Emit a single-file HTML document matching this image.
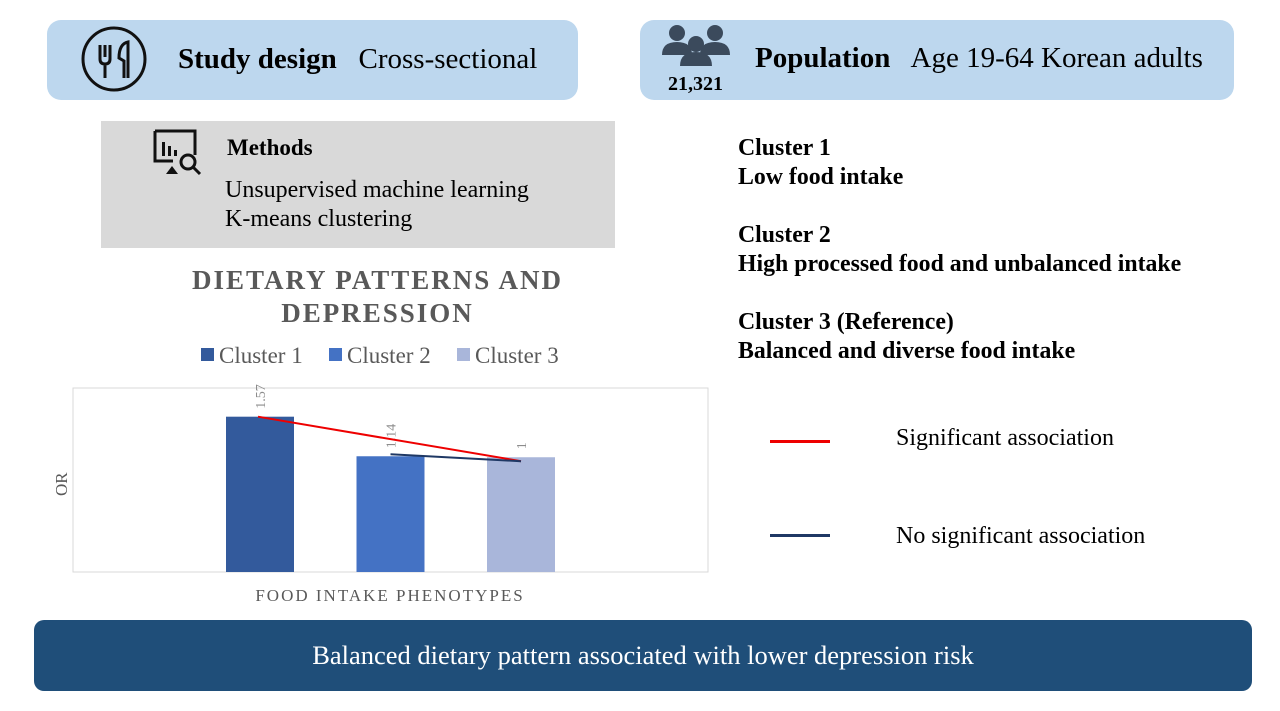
<!DOCTYPE html>
<html><head><meta charset="utf-8"><style>
body{margin:0;width:1280px;height:711px;background:#fff;position:relative;overflow:hidden;font-family:"Liberation Serif",serif;color:#000}
.abs{position:absolute}
.box{background:#bdd7ee;border-radius:14px}
</style></head><body>
<div class="abs box" style="left:47px;top:20px;width:531px;height:80px"></div>
<svg class="abs" style="left:80px;top:25px" width="68" height="68" viewBox="0 0 68 68">
<circle cx="34" cy="34" r="31" fill="none" stroke="#111" stroke-width="3"/>
<path d="M20 20v14q0 5 5 5v14M25 20v12M30 20v14q0 5-5 5" fill="none" stroke="#111" stroke-width="3"/>
<path d="M44 53V36l-5-3q0-14 9-16v36" fill="none" stroke="#111" stroke-width="3"/>
</svg>
<div class="abs" style="left:178px;top:43px;font-size:29px;white-space:nowrap"><b>Study design</b>&nbsp;&nbsp; Cross-sectional</div>

<div class="abs box" style="left:640px;top:20px;width:594px;height:80px"></div>
<svg class="abs" style="left:660px;top:24px" width="72" height="42" viewBox="0 0 72 42">
<g fill="#3b4a5c"><circle cx="17" cy="9" r="8"/><circle cx="55" cy="9" r="8"/><path d="M2 31q0-13 15-13q15 0 15 13z"/><path d="M40 31q0-13 15-13q15 0 15 13z"/><circle cx="36" cy="20" r="8"/><path d="M20 42q0-14 16-14q16 0 16 14z"/></g>
</svg>
<div class="abs" style="left:668px;top:73px;font-size:20px;font-weight:bold">21,321</div>
<div class="abs" style="left:755px;top:42px;font-size:29px;white-space:nowrap"><b>Population</b>&nbsp;&nbsp; Age 19-64 Korean adults</div>

<div class="abs" style="left:101px;top:121px;width:514px;height:127px;background:#d9d9d9"></div>
<svg class="abs" style="left:152px;top:128px" width="52" height="48" viewBox="0 0 52 48">
<path d="M3 3h40v24" fill="none" stroke="#111" stroke-width="3"/><path d="M3 3v30h18" fill="none" stroke="#111" stroke-width="3"/>
<rect x="10" y="14" width="3" height="14" fill="#111"/><rect x="16" y="18" width="3" height="10" fill="#111"/><rect x="22" y="22" width="3" height="6" fill="#111"/>
<circle cx="36" cy="34" r="7" fill="none" stroke="#111" stroke-width="3"/><path d="M41 39l7 7" stroke="#111" stroke-width="3"/><path d="M14 46l6-8 6 8z" fill="#111"/>
</svg>
<div class="abs" style="left:227px;top:135px;font-size:23px;font-weight:bold">Methods</div>
<div class="abs" style="left:225px;top:176px;font-size:24px;line-height:29px">Unsupervised machine learning<br>K-means clustering</div>

<div class="abs" style="left:738px;top:134px;font-size:23.8px;font-weight:bold;line-height:29px">Cluster 1<br>Low food intake<br><div style="height:29px"></div>Cluster 2<br>High processed food and unbalanced intake<br><div style="height:29px"></div>Cluster 3 (Reference)<br>Balanced and diverse food intake</div>

<div class="abs" style="left:770px;top:440px;width:60px;height:3px;background:#e00"></div>
<div class="abs" style="left:896px;top:425px;font-size:24px">Significant association</div>
<div class="abs" style="left:770px;top:534px;width:60px;height:3px;background:#1f3864"></div>
<div class="abs" style="left:896px;top:523px;font-size:24px">No significant association</div>

<div class="abs" style="left:150px;top:264px;width:455px;text-align:center;font-size:27px;font-weight:bold;letter-spacing:2px;color:#595959;line-height:33px">DIETARY PATTERNS AND DEPRESSION</div>
<svg class="abs" id="chart" style="left:0;top:0" width="720" height="620"></svg>

<div class="abs" style="left:34px;top:620px;width:1218px;height:71px;background:#1f4e79;border-radius:10px;color:#fff;font-size:26.5px;text-align:center;line-height:71px">Balanced dietary pattern associated with lower depression risk</div>

<script>
const categories = ["Cluster 1","Cluster 2","Cluster 3"];
const barValues = [1.57, 1.17, 1.16];
const orLabels = ["1.57","1.14","1"];
const sigLine = [1.57, 1.12];
const nonSigLine = [1.19, 1.12];
const colors = ["#335a9c","#4472c4","#a9b6da"];
const ns = "http://www.w3.org/2000/svg";
const svg = document.getElementById('chart');
const L=73,R=708,T=388,B=572,vmax=1.86;
const x = i => 260 + i*130.5;
const y = v => B - v/vmax*(B-T);
function mk(t,a){const e=document.createElementNS(ns,t);for(const k in a)e.setAttribute(k,a[k]);svg.appendChild(e);return e;}
const frame=mk('rect',{x:L,y:T,width:R-L,height:B-T,fill:'none',stroke:'#d9d9d9'});


categories.forEach((c,i)=>{
  const lx=[201,329,457][i];
  const s=mk('rect',{x:lx,y:348,width:13,height:13,fill:colors[i]});
  
  
  const t=mk('text',{x:lx+18,y:363,'font-size':23,fill:'#595959','font-family':'Liberation Serif, serif'});
  t.textContent=c;
  
  
});
barValues.forEach((v,i)=>{
  const b=mk('rect',{x:x(i)-34,y:y(v),width:68,height:B-y(v),fill:colors[i]});
  
  
  const t=mk('text',{transform:`translate(${x(i)+5},${y(v)-8}) rotate(-90)`,'font-size':14,fill:'#8c8c8c','font-family':'Liberation Serif, serif'});
  t.textContent=orLabels[i];
  
  
});
const l1=mk('line',{x1:x(0)-2,y1:y(sigLine[0]),x2:x(2),y2:y(sigLine[1]),stroke:'#e00',"stroke-width":2});


const l2=mk('line',{x1:x(1),y1:y(nonSigLine[0]),x2:x(2),y2:y(nonSigLine[1]),stroke:'#1f3864',"stroke-width":2});


const yt=mk('text',{transform:'translate(67,496) rotate(-90)','font-size':17,fill:'#595959','font-family':'Liberation Serif, serif'});
yt.textContent='OR';


const xt=mk('text',{x:390,y:601,'text-anchor':'middle','font-size':17,'letter-spacing':2,fill:'#595959','font-family':'Liberation Serif, serif'});
xt.textContent='FOOD INTAKE PHENOTYPES';


</script>
</body></html>
